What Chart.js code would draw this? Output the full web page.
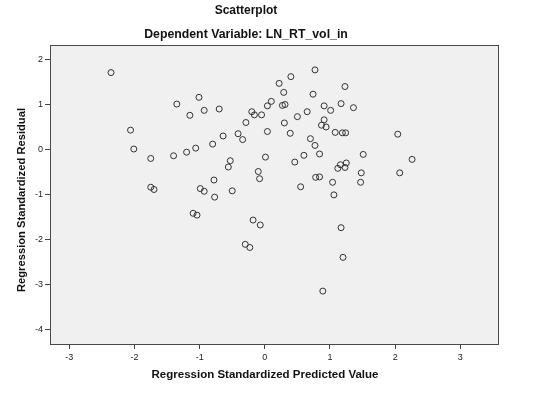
<!DOCTYPE html>
<html>
<head>
<meta charset="utf-8">
<script src="https://cdn.jsdelivr.net/npm/chart.js@4/dist/chart.umd.min.js"></script>
<style>
  html, body { margin: 0; padding: 0; background: #fff; }
  #wrap { width: 540px; height: 396px; }
</style>
</head>
<body>
<div id="wrap"><canvas id="scatter"></canvas></div>
<script>
const chartTitle = 'Scatterplot';
const chartSubtitle = 'Dependent Variable: LN_RT_vol_in';
const xAxisTitle = 'Regression Standardized Predicted Value';
const yAxisTitle = 'Regression Standardized Residual';

const xTicks = [-3, -2, -1, 0, 1, 2, 3];
const yTicks = [-4, -3, -2, -1, 0, 1, 2];

// standardized predicted values
const predicted = [
    -2.36, -2.06, -2.01, -1.75, -1.75, -1.70, -1.35, -1.15, -1.40, -1.20,
    -1.06, -1.01, -0.93, -0.70, -0.80, -0.78, -0.99, -0.93, -0.77, 0.22,
    0.10, 0.04, -0.20, -0.16, -0.05, -0.29, 0.04, -0.41, -0.34, -0.64,
    0.01, -0.53, -0.56, 0.40, 0.29, 0.27, 0.31, 0.30, 0.39, -0.10,
    -0.08, -0.50, 0.77, 0.74, 0.50, 0.65, 0.91, 1.01, 1.17, 1.23,
    1.36, 0.91, 0.87, 0.94, 1.08, 1.19, 1.24, 0.70, 0.77, 0.84,
    0.60, 0.46, 1.51, 1.25, 1.16, 1.12, 1.23, 1.48, 1.47, 1.04,
    0.78, 0.84, 0.55, 1.06, 2.04, 2.26, 2.07, -1.10, -1.04, -0.18,
    -0.07, -0.30, -0.23, 1.17, 1.20, 0.89
];

// standardized residuals
const residual = [
    1.71, 0.43, 0.01, -0.20, -0.84, -0.89, 1.01, 0.76, -0.14, -0.06,
    0.03, 1.16, 0.87, 0.90, 0.12, -0.68, -0.87, -0.93, -1.06, 1.47,
    1.07, 0.97, 0.84, 0.77, 0.77, 0.60, 0.40, 0.35, 0.22, 0.30,
    -0.17, -0.25, -0.39, 1.62, 1.27, 0.98, 1.00, 0.59, 0.36, -0.49,
    -0.65, -0.92, 1.77, 1.23, 0.73, 0.84, 0.97, 0.87, 1.02, 1.40,
    0.93, 0.66, 0.54, 0.50, 0.38, 0.37, 0.37, 0.24, 0.09, -0.10,
    -0.13, -0.28, -0.11, -0.30, -0.34, -0.42, -0.40, -0.52, -0.73, -0.73,
    -0.62, -0.61, -0.83, -1.01, 0.34, -0.22, -0.52, -1.42, -1.46, -1.57,
    -1.68, -2.11, -2.18, -1.74, -2.40, -3.15
];

const points = predicted.map((x, i) => ({ x: x, y: residual[i] }));

const fontFamily = '"Liberation Sans", Arial, sans-serif';

// grey plot background and frame, plus the SPSS style titles
const frame = {
    id: 'frame',
    beforeDraw(chart) {
        const a = chart.chartArea;
        const ctx = chart.ctx;
        ctx.save();
        ctx.fillStyle = '#f0f0f0';
        ctx.fillRect(a.left, a.top, a.right - a.left, a.bottom - a.top);
        ctx.restore();
    },
    afterDraw(chart) {
        const a = chart.chartArea;
        const ctx = chart.ctx;
        ctx.save();
        ctx.strokeStyle = '#4a4a4a';
        ctx.lineWidth = 1;
        ctx.strokeRect(Math.round(a.left) + 0.5, Math.round(a.top) + 0.5,
            Math.round(a.right - a.left), Math.round(a.bottom - a.top));

        ctx.fillStyle = '#111';
        ctx.textAlign = 'center';
        ctx.textBaseline = 'middle';
        ctx.font = 'bold 12px ' + fontFamily;
        ctx.fillText(chartTitle, 246, 11);
        ctx.font = 'bold 12.3px ' + fontFamily;
        ctx.fillText(chartSubtitle, 246, 35);
        ctx.font = 'bold 11.5px ' + fontFamily;
        ctx.fillText(xAxisTitle, 265, 375);

        ctx.translate(22, 200);
        ctx.rotate(-Math.PI / 2);
        ctx.font = 'bold 11.2px ' + fontFamily;
        ctx.fillText(yAxisTitle, 0, 0);
        ctx.restore();
    }
};

new Chart(document.getElementById('scatter'), {
    type: 'scatter',
    data: {
        datasets: [{
            label: 'Residuals',
            data: points,
            pointRadius: 3,
            pointHoverRadius: 3,
            pointBorderWidth: 1,
            pointBorderColor: '#333',
            pointBackgroundColor: 'rgba(0,0,0,0)'
        }]
    },
    options: {
        responsive: true,
        maintainAspectRatio: false,
        animation: false,
        layout: {
            padding: { top: 45, right: 42, bottom: 0, left: 0 }
        },
        plugins: {
            legend: { display: false },
            tooltip: { enabled: false }
        },
        scales: {
            x: {
                type: 'linear',
                min: -3.296,
                max: 3.578,
                afterBuildTicks: scale => {
                    scale.ticks = xTicks.map(v => ({ value: v }));
                },
                afterFit: scale => { scale.height = 52; },
                grid: {
                    drawOnChartArea: false,
                    drawTicks: true,
                    tickLength: 5,
                    color: '#444'
                },
                border: { display: false },
                ticks: {
                    color: '#222',
                    padding: 3,
                    maxRotation: 0,
                    font: { family: fontFamily, size: 9 }
                }
            },
            y: {
                type: 'linear',
                min: -4.327,
                max: 2.324,
                afterBuildTicks: scale => {
                    scale.ticks = yTicks.map(v => ({ value: v }));
                },
                afterFit: scale => { scale.width = 50; },
                grid: {
                    drawOnChartArea: false,
                    drawTicks: true,
                    tickLength: 5,
                    color: '#444'
                },
                border: { display: false },
                ticks: {
                    color: '#222',
                    padding: 2,
                    font: { family: fontFamily, size: 9 }
                }
            }
        }
    },
    plugins: [frame]
});
</script>
</body>
</html>
